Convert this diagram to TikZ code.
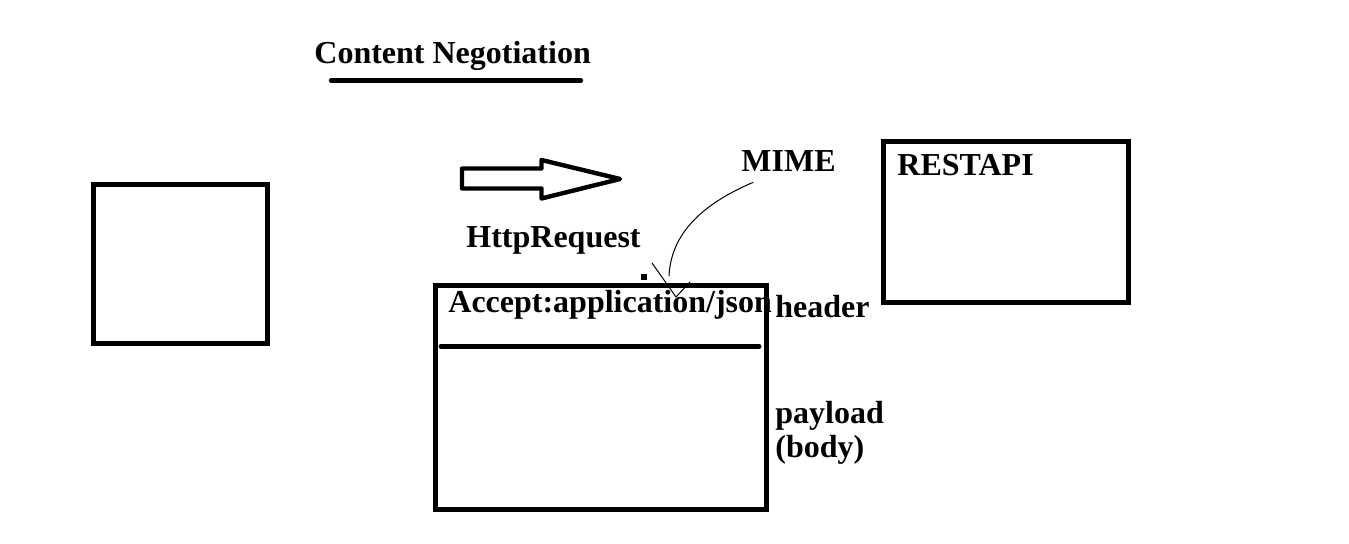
\documentclass[tikz,border=0pt]{standalone}
\usepackage{fontspec}
\setmainfont{Liberation Serif}
\usetikzlibrary{positioning}
\begin{document}
\begin{tikzpicture}[x=0.5pt, y=-0.5pt, line join=round, line cap=round,
		font=\fontsize{16}{19}\selectfont\bfseries,
		box/.style={draw, line width=2.5pt, line cap=butt, line join=miter},
		lbl/.style={anchor=base west, inner sep=0pt},
		thinline/.style={line width=0.5pt}]
	\useasboundingbox (0,0) rectangle (1349,544);
	% title
	\node[lbl] (title) at (314,64) {Content Negotiation};
	\draw[line width=2.2pt] (331,80.5)--(581,80.5);
	% client box
	\draw[box] (93.5,185) rectangle (267.5,343.5);
	% request arrow
	\draw[line width=2.2pt, line join=round]
		(462,168.5)--(541.5,168.5)--(541.5,160)--(620,179)--(541.5,198.5)--(541.5,188.5)--(462,188.5)--cycle;
	\node[lbl] (http) at (466,248) {HttpRequest};
	% request
	\node[lbl] (accept) at (448,313) {Accept:application/json};
	\draw[box] (435,285.7) rectangle (766.5,509.5);
	\draw[line width=2.5pt] (441,346.3)--(759,346.3);
	\fill (641,274) rectangle (647,280);
	\node[lbl] (header) at (775,318) {header};
	\node[lbl] (payload) at (775,424) {payload};
	\node[lbl] (body) at (775,458) {(body)};
	% MIME
	\node[lbl] (mime) at (741,172) {MIME};
	\coordinate (mimetip) at (676,297);
	\draw[thinline] (mime.south west) ++(12,10) .. controls (700,205) and (671,235) .. (669,276);
	\draw[thinline] (652,263)--(mimetip)--(690,282);
	% server
	\draw[box] (883.5,141.8) rectangle (1128.5,302.5);
	\node[lbl] (restapi) at (897,176) {RESTAPI};
\end{tikzpicture}
\end{document}
